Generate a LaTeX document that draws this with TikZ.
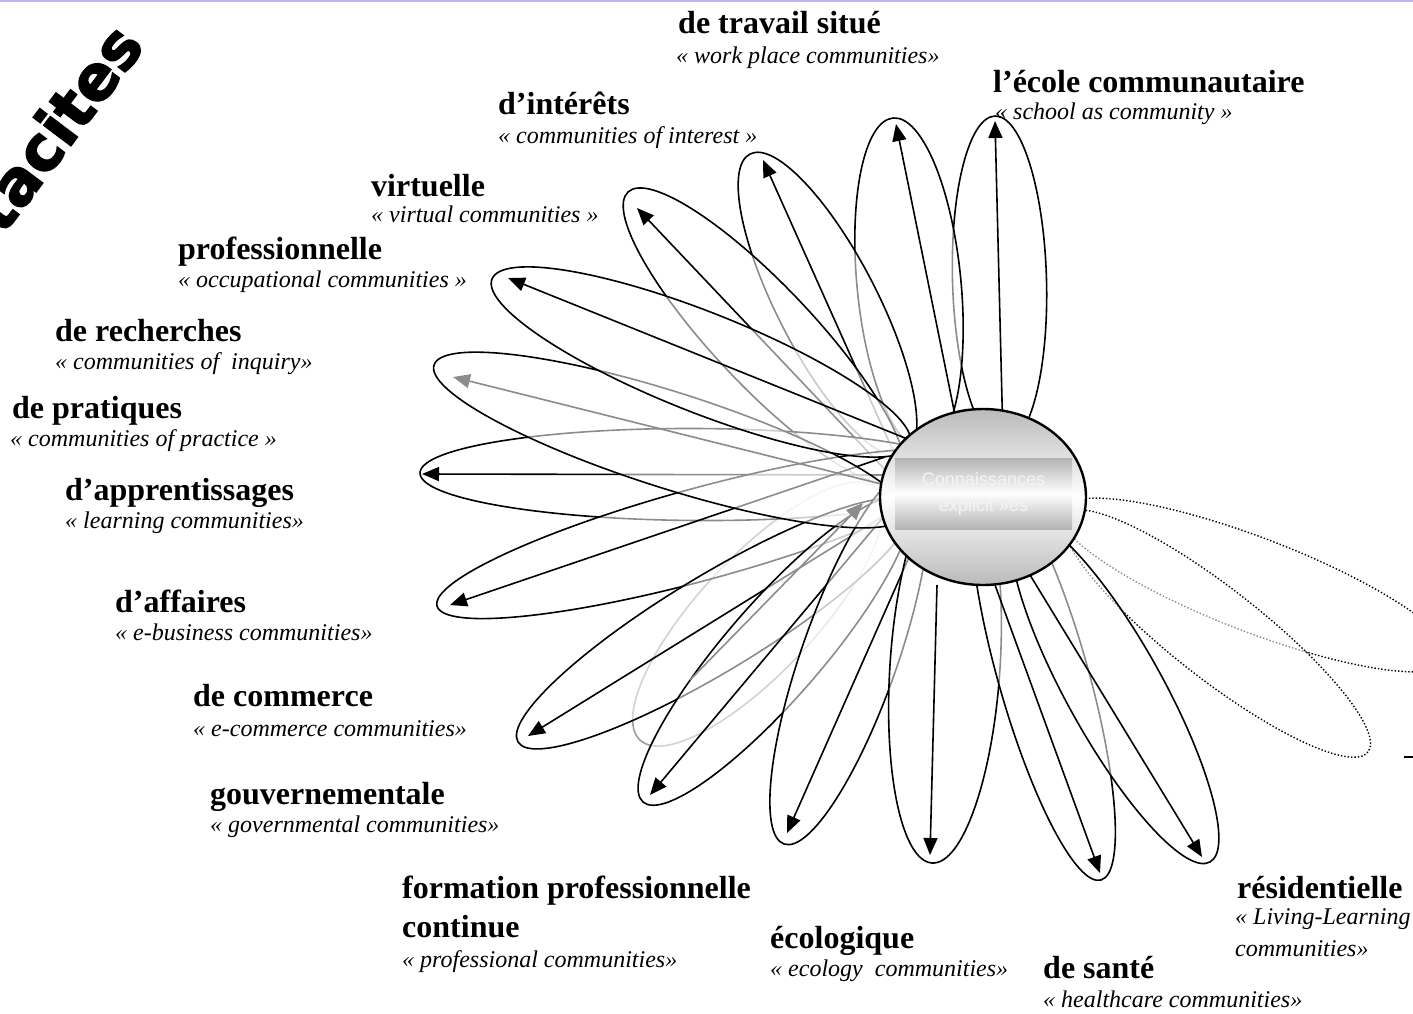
\documentclass[tikz,border=0pt]{standalone}
\usepackage{fontspec}
\setmainfont{Liberation Serif}
\newfontfamily\csans{Liberation Sans}
\newfontfamily\heavyfont[FakeBold=2.5]{DejaVu Sans Bold}
\usetikzlibrary{arrows.meta,shapes.geometric,calc}
\definecolor{topline}{HTML}{BDB9EE}
\definecolor{ctext}{HTML}{F4F4F4}
\tikzset{
  petalline/.style={draw=black,line width=1.6pt,fill=white,fill opacity=0.55},
  greypetal/.style={draw=black!38,line width=1.6pt,fill=white,fill opacity=0.55},
  dotpetal/.style={draw=black,line width=1.4pt,dotted,fill=white,fill opacity=0.55},
  spoke/.style={draw=black,line width=1.6pt,-{Triangle[length=17pt,width=14pt]}},
  greyspoke/.style={spoke,draw=black!45},
  ttl/.style={anchor=base west,inner sep=0pt,font=\fontsize{32}{36}\selectfont\bfseries},
  sbt/.style={anchor=base west,inner sep=0pt,font=\fontsize{24}{28}\selectfont\itshape},
}
% petal: name, inner end, outer end, half width, style
\newcommand\petal[5]{%
  \coordinate (#1-in) at (#2);
  \coordinate (#1-out) at (#3);
  \path[#5] let \p1=(#1-in), \p2=(#1-out),
     \n1={atan2(scalar(\y2-\y1),scalar(\x2-\x1))},
     \n2={scalar(veclen(\x2-\x1,\y2-\y1))/2} in
     ($(\p1)!0.5!(\p2)$) circle[x radius=\n2, y radius=#4, rotate=\n1];
}
% spoke: name, start, tip, style
\newcommand\spk[4]{%
  \coordinate (#1-a) at (#2);
  \coordinate (#1-p) at (#3);
  \draw[#4] (#1-a) -- (#1-p);
}
\begin{document}
\begin{tikzpicture}[x=1pt,y=-1pt]
\useasboundingbox (0,0) rectangle (1413,1013);

% dotted petals
\petal{dA}{1060,510}{1450,660}{47}{dotpetal}
\petal{dB}{1065,515}{1368,752}{45}{dotpetal}

% hidden inward petal
\petal{app}{640,740}{876,488}{58}{greypetal}

% petals with arrows
\petal{eco}{1004,445}{995,116}{47}{petalline}
\spk{eco}{1003,440}{995,121}{spoke}
\petal{tra}{925,450}{893,118}{52}{petalline}
\spk{tra}{958,430}{896,124}{spoke}
\petal{int}{905,455}{750,154}{50}{petalline}
\spk{int}{895,455}{763,160}{spoke}
\petal{vir}{900,480}{628,192}{50}{petalline}
\spk{vir}{890,475}{637,208}{spoke}
\petal{pra}{975,476}{420,473}{46}{petalline}
\spk{pra}{890,475}{422,474}{spoke}
\petal{aff}{965,462}{437,606}{46}{petalline}
\spk{aff}{885,457}{450,605}{spoke}
\petal{com}{910,505}{518,742}{48}{petalline}
\spk{com}{885,515}{528,736}{spoke}
\petal{gou}{905,500}{643,802}{48}{petalline}
\spk{gou}{885,515}{650,795}{spoke}
\petal{for}{915,470}{784,844}{48}{petalline}
\spk{for}{910,555}{787,833}{spoke}
\petal{ecl}{958,470}{932,863}{55}{petalline}
\spk{ecl}{937,585}{930,855}{spoke}
\petal{san}{985,470}{1101,880}{45}{petalline}
\spk{san}{995,585}{1100,873}{spoke}
\petal{res}{1020,520}{1210,862}{48}{petalline}
\spk{res}{1030,575}{1202,857}{spoke}
\spk{rec}{885,485}{453,377}{spoke}
\petal{rec}{905,515}{434,365}{48}{petalline}
\petal{pro}{910,445}{492,279}{50}{petalline}
\spk{pro}{910,440}{508,278}{spoke}
\spk{app}{690,680}{863,503}{greyspoke}

% centre
\node[ellipse,draw,line width=2.4pt,minimum width=206pt,minimum height=176pt,
      top color=black!27,bottom color=black!27,middle color=white,inner sep=0pt] (c) at (983,497) {};
\node[rectangle,minimum width=177pt,minimum height=71pt,inner sep=0pt,
      top color=black!30,bottom color=black!30,middle color=white,
      text=ctext,align=center,font=\csans\fontsize{18}{26}\selectfont] (ck) at (983.5,493.5)
      {Connaissances\\explicit »es};

% labels
\node[ttl] (t1) at (678,33) {de travail situé};
\node[sbt] (s1) at (676,63) {« work place communities»};
\node[ttl] (t2) at (993,92) {l’école communautaire};
\node[sbt] (s2) at (995,119) {« school as community »};
\node[ttl] (t3) at (498,114) {d’intérêts};
\node[sbt] (s3) at (498,143) {« communities of interest »};
\node[ttl] (t4) at (371,196) {virtuelle};
\node[sbt] (s4) at (371,222) {« virtual communities »};
\node[ttl] (t5) at (178,259) {professionnelle};
\node[sbt] (s5) at (178,287) {« occupational communities »};
\node[ttl] (t6) at (55,341) {de recherches};
\node[sbt] (s6) at (55,369) {« communities of~ inquiry»};
\node[ttl] (t7) at (12,418) {de pratiques};
\node[sbt] (s7) at (10,446) {« communities of practice »};
\node[ttl] (t8) at (65,500) {d’apprentissages};
\node[sbt] (s8) at (65,528) {« learning communities»};
\node[ttl] (t9) at (115,612) {d’affaires};
\node[sbt] (s9) at (115,640) {« e-business communities»};
\node[ttl] (t10) at (193,706) {de commerce};
\node[sbt] (s10) at (193,736) {« e-commerce communities»};
\node[ttl] (t11) at (210,804) {gouvernementale};
\node[sbt] (s11) at (210,832) {« governmental communities»};
\node[ttl] (t12) at (402,898) {formation professionnelle};
\node[ttl] (t12b) at (402,937) {continue};
\node[sbt] (s12) at (402,967) {« professional communities»};
\node[ttl] (t13) at (770,948) {écologique};
\node[sbt] (s13) at (770,976) {« ecology~ communities»};
\node[ttl] (t14) at (1043,978) {de santé};
\node[sbt] (s14) at (1043,1007) {« healthcare communities»};
\node[ttl] (t15) at (1237,898) {résidentielle};
\node[sbt] (s15) at (1235,924) {« Living-Learning};
\node[sbt] (s15b) at (1235,956) {communities»};

\node[font=\heavyfont\fontsize{62}{66}\selectfont,rotate=53,anchor=base east,inner sep=0pt] (tac) at (146,46) {tacites};

\draw[line width=1.2pt] (1404,757) -- (1413,757);
\draw[topline,line width=2.5pt] (0,1) -- (1413,1);
\end{tikzpicture}
\end{document}
